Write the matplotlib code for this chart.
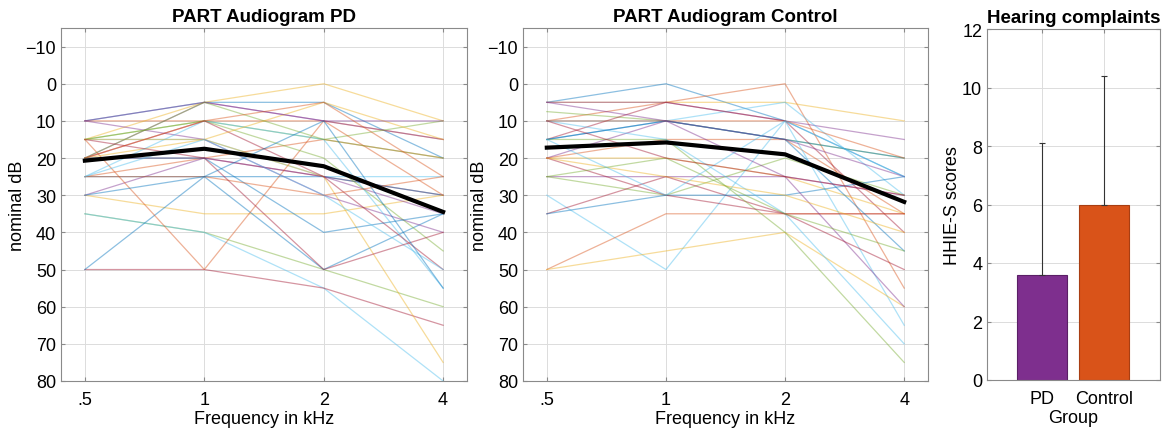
import matplotlib
matplotlib.use('Agg')
import numpy as np
from matplotlib import pyplot as plt

plt.rcParams['font.family'] = ['Liberation Sans', 'DejaVu Sans']

freq_labels = ['.5', '1', '2', '4']

# individual audiograms (dB at .5, 1, 2, 4 kHz)
pd_lines = [
    [10, 5, 5, 20], [10, 10, 10, 15], [15, 5, 0, 10], [20, 5, 10, 15],
    [15, 10, 15, 10], [15, 15, 25, 25], [20, 20, 25, 30], [25, 25, 25, 30],
    [25, 20, 15, 20], [30, 35, 35, 30], [30, 20, 25, 35], [35, 40, 50, 60],
    [35, 40, 55, 80], [50, 50, 55, 65], [50, 25, 50, 35], [15, 50, 10, 30],
    [20, 15, 25, 75], [10, 15, 30, 40], [15, 10, 20, 45], [25, 10, 15, 55],
    [20, 10, 25, 50], [20, 20, 40, 35], [25, 25, 30, 25], [15, 15, 5, 15],
    [10, 5, 10, 10], [20, 5, 15, 20], [25, 15, 30, 50], [15, 20, 50, 40],
    [30, 25, 10, 55], [20, 10, 5, 25],
]
ctrl_lines = [
    [5, 0, 10, 25], [10, 5, 0, 55], [5, 5, 5, 10], [5, 5, 10, 15],
    [7.5, 10, 15, 20], [10, 10, 5, 30], [15, 5, 10, 40], [15, 10, 15, 20],
    [20, 15, 15, 35], [20, 20, 25, 35], [25, 25, 25, 30], [25, 30, 20, 30],
    [30, 50, 10, 65], [35, 25, 35, 35], [35, 30, 30, 25], [50, 35, 35, 35],
    [50, 45, 40, 60], [20, 10, 25, 60], [15, 15, 40, 75], [10, 15, 35, 70],
    [20, 30, 35, 50], [15, 10, 15, 45], [10, 10, 10, 20], [20, 25, 30, 40],
    [5, 10, 15, 25], [25, 20, 35, 45], [15, 30, 10, 25], [10, 20, 25, 30],
]
pd_mean = [20.7, 17.5, 22.2, 34.5]
ctrl_mean = [17.2, 15.8, 19.0, 31.8]

groups = ['PD', 'Control']
hhie_mean = [3.6, 6.0]
hhie_sd = [4.5, 4.4]

mcolors = ['#0072BD', '#D95319', '#EDB120', '#7E2F8E', '#77AC30', '#4DBEEE', '#A2142F']
W, H = 1170, 431


def style(ax):
    ax.grid(True, color='#dcdcdc', linewidth=0.7)
    ax.set_axisbelow(True)
    for s in ax.spines.values():
        s.set_color('#8a8a8a')
        s.set_linewidth(0.8)
    ax.tick_params(direction='in', length=3, color='#8a8a8a', labelsize=13,
                   top=True, right=True, labelcolor='black')
    ax.tick_params(axis='x', pad=7)


def audiogram(rect, lines, mean, title):
    ax = fig.add_axes(rect)
    x = np.arange(1, 5)
    for i, l in enumerate(lines):
        ax.plot(x, l, color=mcolors[i % 7], lw=0.9, alpha=0.45)
    ax.plot(x, mean, color='black', lw=3)
    ax.set_xlim(0.8, 4.2)
    ax.set_ylim(80, -15)
    ax.set_yticks(np.arange(-10, 81, 10))
    ax.set_xticks(x)
    ax.set_xticklabels(freq_labels)
    style(ax)
    ax.set_xlabel('Frequency in kHz', fontsize=13, labelpad=2)
    ax.set_ylabel('nominal dB', fontsize=13, labelpad=0)
    ax.set_title(title, fontsize=13.5, fontweight='bold', pad=5)
    return ax


fig = plt.figure(figsize=(W / 100, H / 100), dpi=100)

audiogram([61 / W, 49 / H, 406 / W, 353 / H], pd_lines, pd_mean, 'PART Audiogram PD')
audiogram([523 / W, 49 / H, 405 / W, 353 / H], ctrl_lines, ctrl_mean, 'PART Audiogram Control')

ax3 = fig.add_axes([987 / W, 50 / H, 173 / W, 351 / H])
ax3.bar([1, 2], hhie_mean, width=0.8, color=['#7E2F8E', '#D95319'],
        edgecolor=['#5a1f66', '#a83e12'], linewidth=0.8, zorder=2)
ax3.errorbar([1, 2], hhie_mean, yerr=[[0, 0], hhie_sd], fmt='none',
             ecolor='#333333', elinewidth=0.8, capsize=2, capthick=0.8, zorder=3)
ax3.set_xlim(0.11, 2.9)
ax3.set_ylim(0, 12)
ax3.set_yticks(np.arange(0, 13, 2))
ax3.set_xticks([1, 2])
ax3.set_xticklabels(groups)
style(ax3)
ax3.set_xlabel('Group', fontsize=13, labelpad=2)
ax3.set_ylabel('HHIE-S scores', fontsize=13, labelpad=1)
ax3.set_title('Hearing complaints', fontsize=13.5, fontweight='bold', pad=5)

plt.savefig('out.png', dpi=100)
